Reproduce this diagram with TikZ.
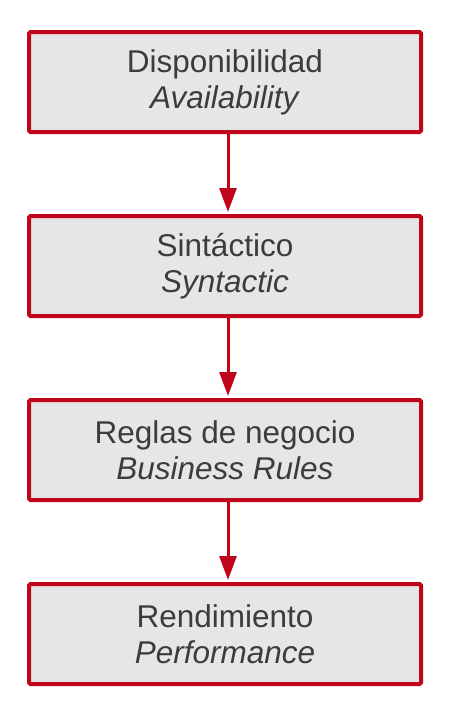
\documentclass[tikz,border=0pt]{standalone}
\usepackage{fontspec}
\setmainfont{Liberation Sans}
\usetikzlibrary{arrows.meta}
\definecolor{boxred}{HTML}{C0061A}
\definecolor{boxfill}{HTML}{E6E6E6}
\definecolor{txt}{HTML}{3C3C3C}
\tikzset{
  stage/.style={draw=boxred, line width=4pt, fill=boxfill, rounded corners=1.5pt,
    minimum width=392pt, minimum height=100pt, inner sep=0pt, align=center,
    text=txt, font=\fontsize{31.5}{36}\selectfont},
  flow/.style={draw=boxred, line width=3pt, -{Triangle[length=24pt,width=17pt]}, shorten >=2pt}
}
\begin{document}
\begin{tikzpicture}[x=1pt,y=-1pt]
\useasboundingbox[fill=white] (0,0) rectangle (451,718);
\node[stage] (a) at (225,82) {Disponibilidad\\\textit{Availability}};
\node[stage] (b) at (225,266) {Sintáctico\\\textit{Syntactic}};
\node[stage] (c) at (225,450) {Reglas de negocio\\\textit{Business Rules}};
\node[stage] (d) at (225,634) {Rendimiento\\\textit{Performance}};
\draw[flow] ([xshift=3pt]a.south) -- ([xshift=3pt]b.north);
\draw[flow] ([xshift=3pt]b.south) -- ([xshift=3pt]c.north);
\draw[flow] ([xshift=3pt]c.south) -- ([xshift=3pt]d.north);
\end{tikzpicture}
\end{document}
